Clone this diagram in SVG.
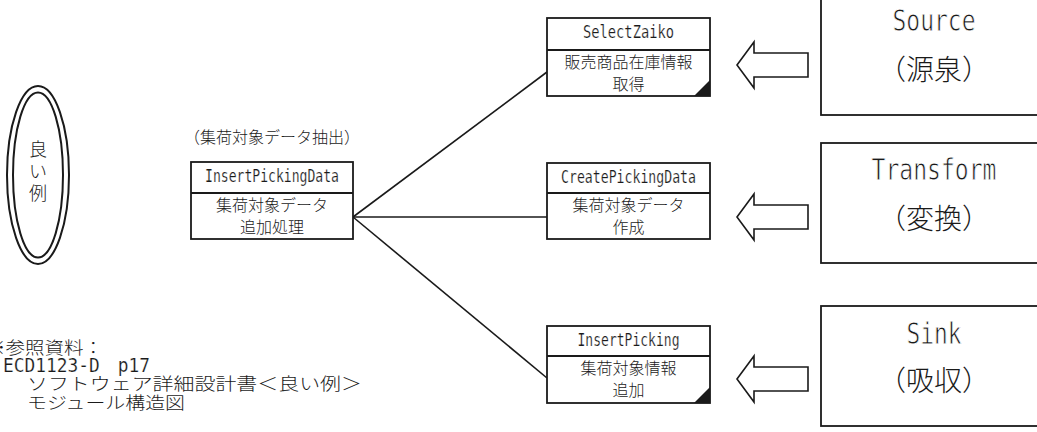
<svg xmlns="http://www.w3.org/2000/svg" xmlns:xlink="http://www.w3.org/1999/xlink" width="1037" height="432" viewBox="0 0 1037 432">
<style>
.bg{fill:#fff}
.box{fill:#fff;stroke:#1a1a1a;stroke-width:1.8}
.div{stroke:#1a1a1a;stroke-width:1.8}
.conn{stroke:#1a1a1a;stroke-width:1.6;fill:none}
.arrow{fill:#fff;stroke:#1a1a1a;stroke-width:1.6;stroke-linejoin:miter}
.tri{fill:#1a1a1a}
.jp{font-family:"Noto Sans CJK JP","Noto Sans",sans-serif;font-weight:300;fill:#1a1a1a}
.mono{font-family:"DejaVu Sans Mono","Liberation Mono",monospace;fill:#1a1a1a}
.thin{stroke:#fff;stroke-width:0.2}
.thin2{stroke:#fff;stroke-width:0.8}
.s16{font-size:16px}
.mid{text-anchor:middle}
.ell{fill:none;stroke:#1a1a1a;stroke-width:2}
</style>
<defs>
<polygon id="hollowArrow" class="arrow" points="0,0 17,-23 17,-12 71,-12 71,12 17,12 17,23"/>
</defs>
<rect class="bg" x="0" y="0" width="1037" height="432"/>

<g id="connectors">
<line class="conn" x1="353" y1="217" x2="547" y2="72"/>
<line class="conn" x1="353" y1="217" x2="547" y2="217"/>
<line class="conn" x1="353" y1="217" x2="547" y2="378"/>
<use xlink:href="#hollowArrow" x="737" y="65"/>
<use xlink:href="#hollowArrow" x="737" y="217"/>
<use xlink:href="#hollowArrow" x="737" y="379"/>
</g>

<g id="good-example">
<ellipse class="ell" cx="38" cy="175" rx="31" ry="89"/>
<ellipse class="ell" cx="38" cy="175" rx="25" ry="82.5"/>
<text class="jp mid" x="38" y="156" font-size="18">良</text>
<text class="jp mid" x="38" y="178" font-size="18">い</text>
<text class="jp mid" x="38" y="200" font-size="18">例</text>
</g>

<g id="InsertPickingData">
<text class="jp s16 mid" x="272" y="143">（集荷対象データ抽出）</text>
<rect class="box" x="191" y="162" width="162" height="77"/>
<line class="div" x1="191" y1="193" x2="353" y2="193"/>
<text class="mono thin mid" x="272" y="182" font-size="17" textLength="134" lengthAdjust="spacingAndGlyphs">InsertPickingData</text>
<text class="jp s16 mid" x="272" y="211">集荷対象データ</text>
<text class="jp s16 mid" x="272" y="233">追加処理</text>
</g>

<g id="SelectZaiko">
<rect class="box" x="547" y="18" width="163" height="78"/>
<line class="div" x1="547" y1="50" x2="710" y2="50"/>
<polygon class="tri" points="694,96 710,96 710,80"/>
<text class="mono thin mid" x="628.5" y="38" font-size="17" textLength="91" lengthAdjust="spacingAndGlyphs">SelectZaiko</text>
<text class="jp s16 mid" x="628.5" y="68">販売商品在庫情報</text>
<text class="jp s16 mid" x="628.5" y="90">取得</text>
</g>

<g id="CreatePickingData">
<rect class="box" x="547" y="163" width="163" height="76"/>
<line class="div" x1="547" y1="193" x2="710" y2="193"/>
<text class="mono thin mid" x="628.5" y="183" font-size="17" textLength="135" lengthAdjust="spacingAndGlyphs">CreatePickingData</text>
<text class="jp s16 mid" x="628.5" y="211">集荷対象データ</text>
<text class="jp s16 mid" x="628.5" y="233">作成</text>
</g>

<g id="InsertPicking">
<rect class="box" x="547" y="326" width="163" height="77"/>
<line class="div" x1="547" y1="356" x2="710" y2="356"/>
<polygon class="tri" points="694,403 710,403 710,387"/>
<text class="mono thin mid" x="628.5" y="346" font-size="17" textLength="102" lengthAdjust="spacingAndGlyphs">InsertPicking</text>
<text class="jp s16 mid" x="628.5" y="374">集荷対象情報</text>
<text class="jp s16 mid" x="628.5" y="396">追加</text>
</g>

<g id="Source">
<rect class="box" x="821" y="-5" width="230" height="120"/>
<text class="mono thin2 mid" x="934" y="31" font-size="30" textLength="83" lengthAdjust="spacingAndGlyphs">Source</text>
<text class="jp mid" x="934" y="80" font-size="28">（源泉）</text>
</g>

<g id="Transform">
<rect class="box" x="821" y="143" width="230" height="120"/>
<text class="mono thin2 mid" x="934" y="180" font-size="30" textLength="125" lengthAdjust="spacingAndGlyphs">Transform</text>
<text class="jp mid" x="934" y="229" font-size="28">（変換）</text>
</g>

<g id="Sink">
<rect class="box" x="821" y="306" width="230" height="120"/>
<text class="mono thin2 mid" x="934" y="344" font-size="30" textLength="55" lengthAdjust="spacingAndGlyphs">Sink</text>
<text class="jp mid" x="934" y="391" font-size="28">（吸収）</text>
</g>

<g id="reference-note">
<text class="jp" x="-14" y="354" font-size="17" textLength="117" lengthAdjust="spacingAndGlyphs">※参照資料：</text>
<text class="mono thin" x="3" y="372" font-size="19" textLength="147" lengthAdjust="spacingAndGlyphs">ECD1123-D　p17</text>
<text class="jp" x="27" y="390" font-size="17" textLength="335" lengthAdjust="spacingAndGlyphs">ソフトウェア詳細設計書＜良い例＞</text>
<text class="jp" x="27" y="409" font-size="17" textLength="158" lengthAdjust="spacingAndGlyphs">モジュール構造図</text>
</g>
</svg>
